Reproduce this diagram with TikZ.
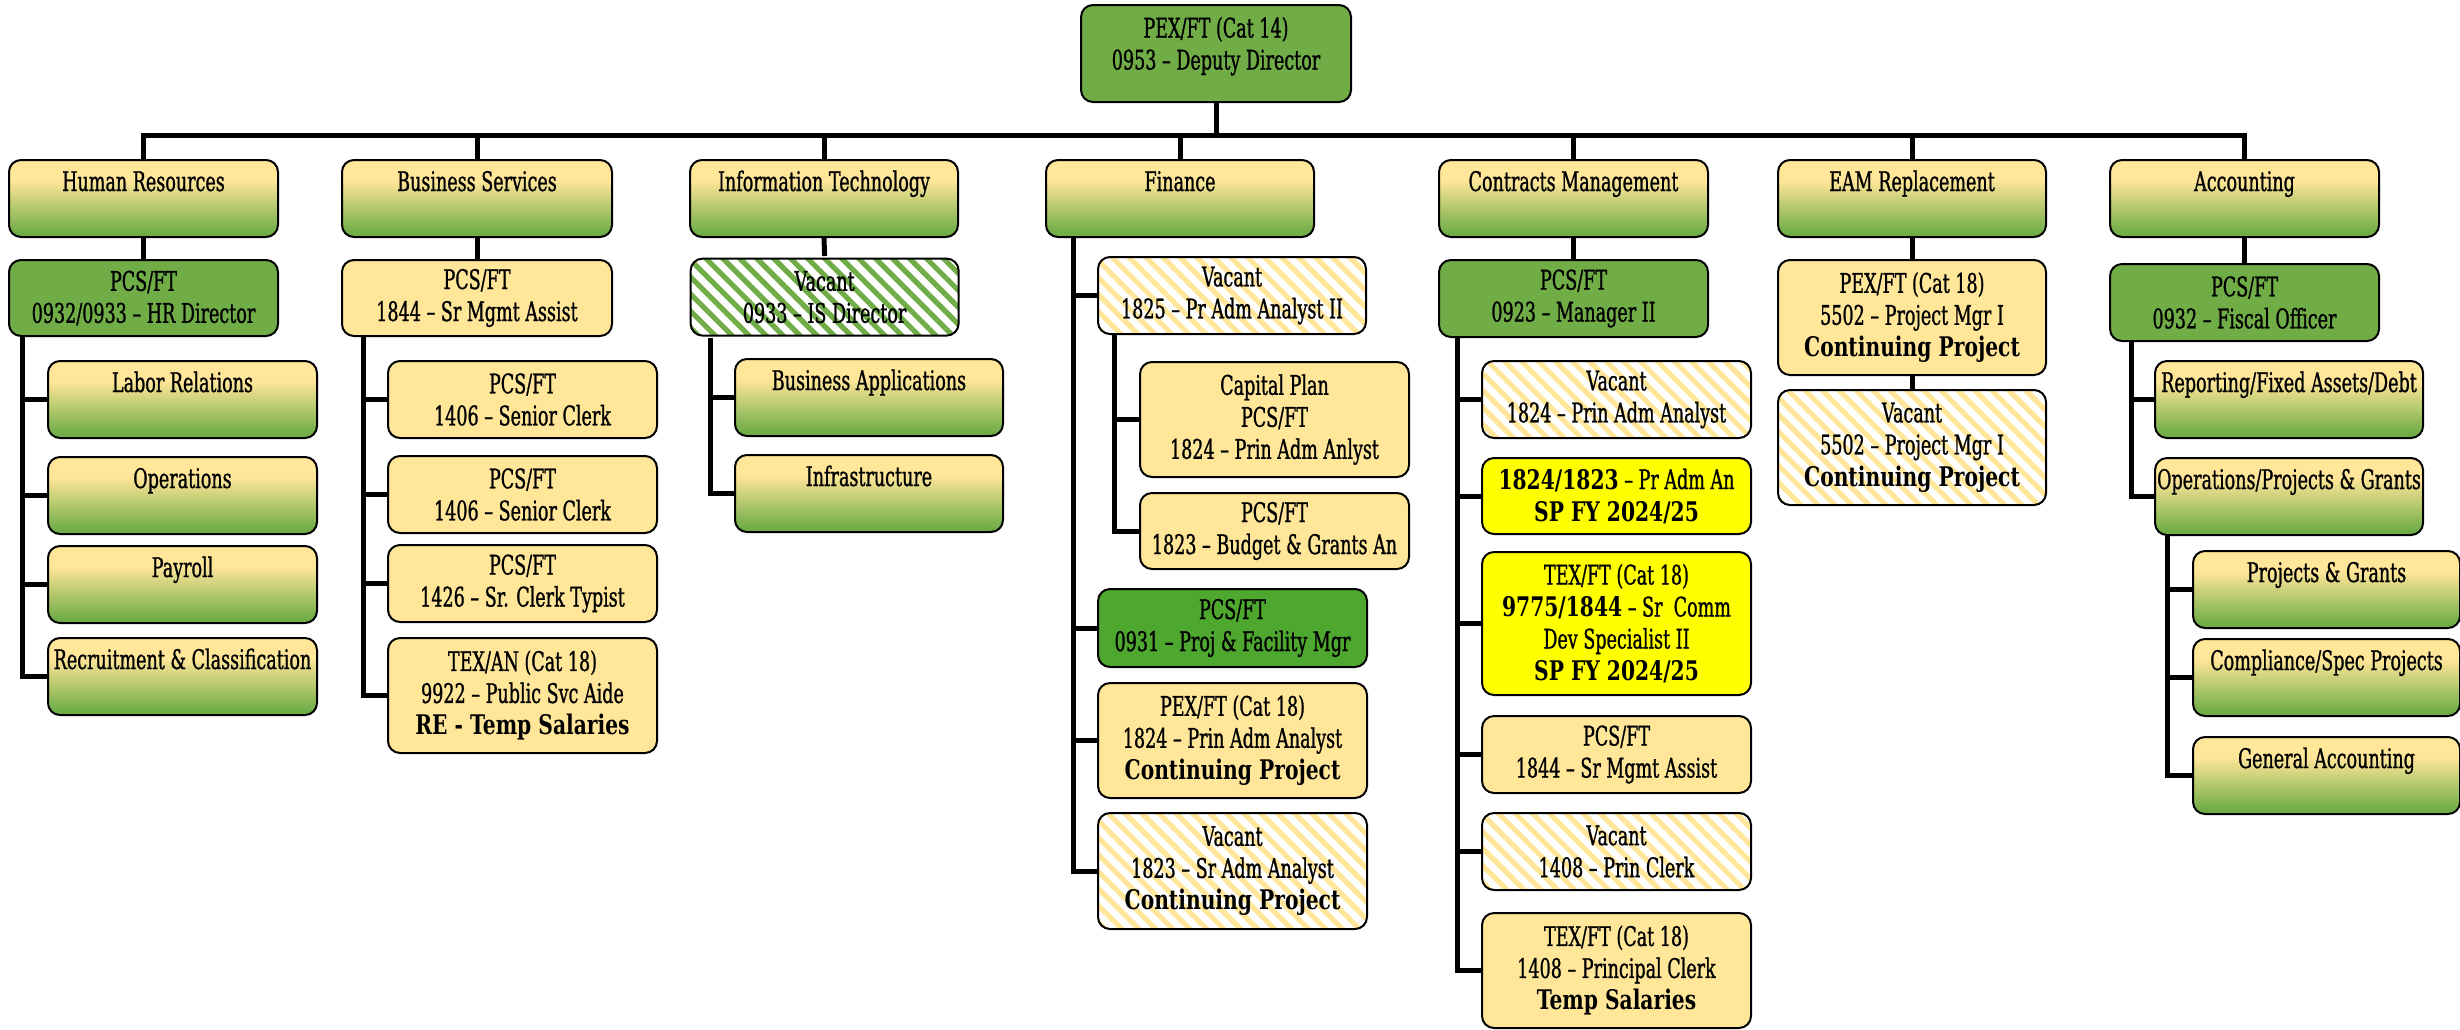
\documentclass[tikz,border=0pt]{standalone}
\usepackage{fontspec}
\setmainfont{DejaVu Serif}[FakeStretch=0.65,FakeBold=0.9]
\newfontfamily\bfam{DejaVu Serif}[FakeStretch=0.75]
\usetikzlibrary{patterns.meta}
\definecolor{cgreen}{HTML}{70AD47}
\definecolor{cgreentwo}{HTML}{4EA72E}
\definecolor{cyellow}{HTML}{FFE699}
\definecolor{cbright}{HTML}{FFFF00}
\pgfdeclareverticalshading{deptshade}{100bp}{color(0bp)=(cgreen); color(28bp)=(cgreen); color(62bp)=(cyellow); color(100bp)=(cyellow)}
\pgfdeclarelayer{bg}
\pgfsetlayers{bg,main}
\newcommand\fsz{\fontsize{13.5pt}{16pt}\selectfont}
\newcommand\bbx[1]{{\bfam\bfseries #1}}
\newcommand\ob[7]{\node[#1, anchor=north west, minimum width={(#5-#3)*0.5pt}, minimum height={(#6-#4)*0.5pt}] (#2) at (#3,#4) {#7};}
\newcommand\db[5]{\node[dept, anchor=north west, minimum width={(#4-#2)*0.5pt}] (#1) at (#2,#3) {#5};}
\begin{document}
\begin{tikzpicture}[x=0.5pt,y=-0.5pt,
  base/.style={draw=black, line width=1pt, rounded corners=6pt, inner sep=0pt, align=center, font=\fsz, text=black},
  grn/.style={base, fill=cgreen},
  grntwo/.style={base, fill=cgreentwo},
  yel/.style={base, fill=cyellow},
  byel/.style={base, fill=cbright},
  hatY/.style={base, preaction={fill=white}, pattern={Lines[angle=-45,distance=6pt,line width=2.6pt]}, pattern color=cyellow},
  hatG/.style={base, preaction={fill=white}, pattern={Lines[angle=-45,distance=6pt,line width=2.6pt]}, pattern color=cgreen},
  dept/.style={base, shading=deptshade, text height=15.5pt, text depth=23pt},
  conn/.style={line width=2.5pt, line join=miter, line cap=butt}]
\useasboundingbox (0,0) rectangle (2460,1029);

% top
\ob{grn}{dep}{1080}{4}{1350}{101}{\parbox[c][48.5pt][t]{130pt}{\vspace*{6pt}\centering PEX/FT (Cat 14)\\0953 – Deputy Director}}

% departments
\db{hr}{8}{159}{277}{Human Resources}
\db{bs}{341}{159}{611}{Business Services}
\db{it}{689}{159}{957}{Information Technology}
\db{fin}{1045}{159}{1313}{Finance}
\db{cm}{1438}{159}{1707}{Contracts Management}
\db{eam}{1777}{159}{2045}{EAM Replacement}
\db{acc}{2109}{159}{2378}{Accounting}

% second level
\ob{grn}{hrd}{8}{259}{277}{335}{PCS/FT\\0932/0933 – HR Director}
\ob{yel}{bsd}{341}{259}{611}{335}{PCS/FT\\1844 – Sr Mgmt Assist}
\ob{hatG}{itd}{688}{256}{956}{333}{Vacant\\0933 – IS Director}
\ob{grn}{cmd}{1438}{259}{1707}{336}{PCS/FT\\0923 – Manager II}
\ob{yel}{eamone}{1777}{259}{2045}{374}{PEX/FT (Cat 18)\\5502 – Project Mgr I\\\bbx{Continuing Project}}
\ob{hatY}{eamtwo}{1777}{389}{2045}{504}{Vacant\\5502 – Project Mgr I\\\bbx{Continuing Project}}
\ob{grn}{accd}{2109}{263}{2378}{340}{PCS/FT\\0932 – Fiscal Officer}

% HR children
\db{lr}{47}{360}{316}{Labor Relations}
\db{ops}{47}{456}{316}{Operations}
\db{pay}{47}{545}{316}{Payroll}
\db{rc}{47}{637}{316}{Recruitment \& Classification}

% BS children
\ob{yel}{cone}{387}{360}{656}{437}{PCS/FT\\1406 – Senior Clerk}
\ob{yel}{ctwo}{387}{455}{656}{532}{PCS/FT\\1406 – Senior Clerk}
\ob{yel}{cthree}{387}{544}{656}{621}{PCS/FT\\1426 – Sr. Clerk Typist}
\ob{yel}{cfour}{387}{637}{656}{752}{TEX/AN (Cat 18)\\9922 – Public Svc Aide\\\bbx{RE - Temp Salaries}}

% IT children
\db{ba}{734}{358}{1002}{Business Applications}
\db{inf}{734}{454}{1002}{Infrastructure}

% Finance
\ob{hatY}{fone}{1097}{256}{1365}{333}{Vacant\\1825 – Pr Adm Analyst II}
\ob{yel}{fonea}{1139}{361}{1408}{476}{Capital Plan\\PCS/FT\\1824 – Prin Adm Anlyst}
\ob{yel}{foneb}{1139}{492}{1408}{568}{PCS/FT\\1823 – Budget \& Grants An}
\ob{grntwo}{ftwo}{1097}{588}{1366}{666}{PCS/FT\\0931 – Proj \& Facility Mgr}
\ob{yel}{fthree}{1097}{682}{1366}{797}{PEX/FT (Cat 18)\\1824 – Prin Adm Analyst\\\bbx{Continuing Project}}
\ob{hatY}{ffour}{1097}{812}{1366}{928}{Vacant\\1823 – Sr Adm Analyst\\\bbx{Continuing Project}}

% Contracts
\ob{hatY}{kone}{1481}{360}{1750}{437}{Vacant\\1824 – Prin Adm Analyst}
\ob{byel}{ktwo}{1481}{457}{1750}{533}{\bbx{1824/1823} – Pr Adm An\\\bbx{SP FY 2024/25}}
\ob{byel}{kthree}{1481}{551}{1750}{694}{TEX/FT (Cat 18)\\\bbx{9775/1844} – Sr~~Comm\\Dev Specialist II\\\bbx{SP FY 2024/25}}
\ob{yel}{kfour}{1481}{715}{1750}{792}{PCS/FT\\1844 – Sr Mgmt Assist}
\ob{hatY}{kfive}{1481}{812}{1750}{889}{Vacant\\1408 – Prin Clerk}
\ob{yel}{ksix}{1481}{912}{1750}{1027}{TEX/FT (Cat 18)\\1408 – Principal Clerk\\\bbx{Temp Salaries}}

% Accounting
\db{aone}{2154}{360}{2422}{Reporting/Fixed Assets/Debt}
\db{atwo}{2154}{457}{2422}{Operations/Projects \& Grants}
\db{atwoa}{2192}{550}{2459}{Projects \& Grants}
\db{atwob}{2192}{638}{2459}{Compliance/Spec Projects}
\db{atwoc}{2192}{736}{2459}{General Accounting}

% connector coordinates
\coordinate (bus) at (0,135);
\coordinate (hrx) at (22,0);
\coordinate (bsx) at (363,0);
\coordinate (itx) at (710,0);
\coordinate (finx) at (1073,0);
\coordinate (fonex) at (1114,0);
\coordinate (cmx) at (1457,0);
\coordinate (accx) at (2131,0);
\coordinate (atwox) at (2167,0);

\begin{pgfonlayer}{bg}
\draw[conn] (dep.south) -- (dep.south |- bus);
\draw[conn] (hr.north) -- (hr.north |- bus) -- (acc.north |- bus) -- (acc.north);
\foreach \n in {bs,it,fin,cm,eam} \draw[conn] (\n.north) -- (\n.north |- bus);
\foreach \a/\b in {hr/hrd,bs/bsd,it/itd,cm/cmd,eam/eamone,eamone/eamtwo,acc/accd} \draw[conn] (\a.south) -- (\b.north);
\foreach \c in {lr,ops,pay,rc} \draw[conn] (hrd.south -| hrx) |- (\c.west);
\foreach \c in {cone,ctwo,cthree,cfour} \draw[conn] (bsd.south -| bsx) |- (\c.west);
\foreach \c in {ba,inf} \draw[conn] (itd.south -| itx) |- (\c.west);
\foreach \c in {fone,ftwo,fthree,ffour} \draw[conn] (fin.south -| finx) |- (\c.west);
\foreach \c in {fonea,foneb} \draw[conn] (fone.south -| fonex) |- (\c.west);
\foreach \c in {kone,ktwo,kthree,kfour,kfive,ksix} \draw[conn] (cmd.south -| cmx) |- (\c.west);
\foreach \c in {aone,atwo} \draw[conn] (accd.south -| accx) |- (\c.west);
\foreach \c in {atwoa,atwob,atwoc} \draw[conn] (atwo.south -| atwox) |- (\c.west);
\end{pgfonlayer}
\end{tikzpicture}
\end{document}
